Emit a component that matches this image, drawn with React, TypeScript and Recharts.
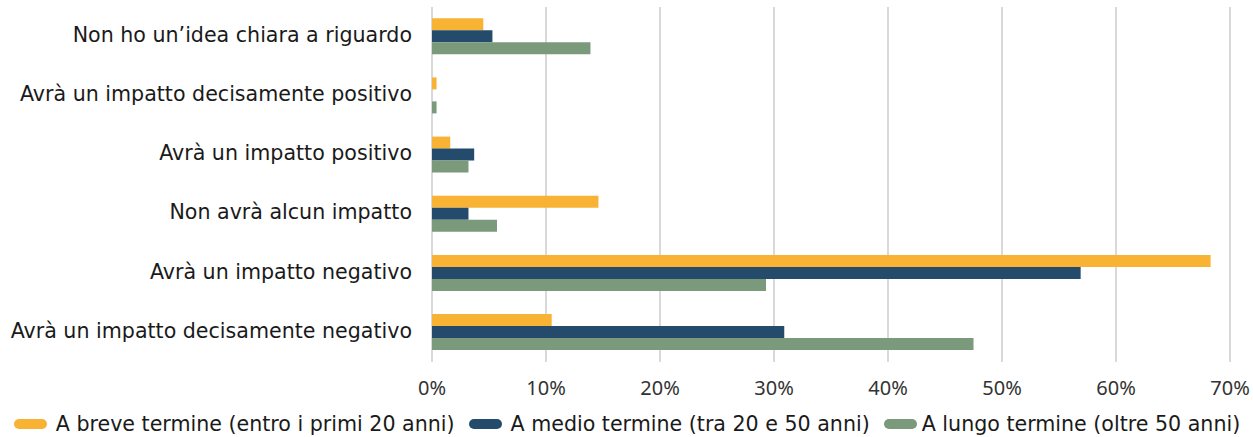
import React from "react";
import { BarChart, Bar, XAxis, YAxis, CartesianGrid, Legend } from "recharts";

const categories = [
  "Non ho un’idea chiara a riguardo",
  "Avrà un impatto decisamente positivo",
  "Avrà un impatto positivo",
  "Non avrà alcun impatto",
  "Avrà un impatto negativo",
  "Avrà un impatto decisamente negativo",
];
const breve = [0.045, 0.004, 0.016, 0.146, 0.683, 0.105];
const medio = [0.053, 0.0, 0.037, 0.032, 0.569, 0.309];
const lungo = [0.139, 0.004, 0.032, 0.057, 0.293, 0.475];
const xTicks = [0, 0.1, 0.2, 0.3, 0.4, 0.5, 0.6, 0.7];

const seriesNames = [
  "A breve termine (entro i primi 20 anni)",
  "A medio termine (tra 20 e 50 anni)",
  "A lungo termine (oltre 50 anni)",
];
const colors = ["#F8B334", "#254B6C", "#7B997B"];

const data = categories.map((c, i) => ({
  name: c,
  breve: breve[i],
  medio: medio[i],
  lungo: lungo[i],
}));

const FONT = "'DejaVu Sans', sans-serif";
const TICKFONT = "'Noto Sans', sans-serif";

const LegendContent = () => (
  <div
    style={{
      display: "flex",
      justifyContent: "center",
      alignItems: "center",
      fontFamily: FONT,
      fontSize: 20.6,
      color: "#1a1a1a",
      height: 30,
      whiteSpace: "nowrap",
      transform: "translate(12px, 2px)",
    }}
  >
    {seriesNames.map((n, i) => (
      <div key={n} style={{ display: "flex", alignItems: "center", marginRight: i < 2 ? 14 : 0 }}>
        <span
          style={{
            display: "inline-block",
            width: 33,
            height: 10,
            borderRadius: 5,
            background: colors[i],
            marginRight: i < 2 ? 9 : 5,
          }}
        />
        <span>{n}</span>
      </div>
    ))}
  </div>
);

export default function App() {
  return (
    <div style={{ position: "absolute", left: 0, top: 0, width: 1253, height: 437, background: "#fff" }}>
      <BarChart
        width={1253}
        height={437}
        data={data}
        layout="vertical"
        margin={{ top: 7, right: 23, left: 0, bottom: 0 }}
        barCategoryGap="19%"
        barGap={0}
      >
        <CartesianGrid horizontal={false} stroke="#d9d9d9" strokeWidth={2} />
        <XAxis
          type="number"
          domain={[0, 0.7]}
          ticks={xTicks}
          tickFormatter={(v: number) => `${Math.round(v * 100)}%`}
          axisLine={false}
          tickLine={false}
          tickSize={0}
          tickMargin={19}
          height={45}
          tick={{ fontFamily: TICKFONT, fontSize: 20, fill: "#333" }}
        />
        <YAxis
          type="category"
          dataKey="name"
          width={432}
          axisLine={false}
          tickLine={false}
          tickSize={0}
          tickMargin={20}
          interval={0}
          tick={{ fontFamily: FONT, fontSize: 20.6, fill: "#1a1a1a", dy: -2 }}
        />
        <Legend verticalAlign="bottom" height={30} content={<LegendContent />} />
        <Bar dataKey="breve" name={seriesNames[0]} fill={colors[0]} isAnimationActive={false} />
        <Bar dataKey="medio" name={seriesNames[1]} fill={colors[1]} isAnimationActive={false} />
        <Bar dataKey="lungo" name={seriesNames[2]} fill={colors[2]} isAnimationActive={false} />
      </BarChart>
    </div>
  );
}
